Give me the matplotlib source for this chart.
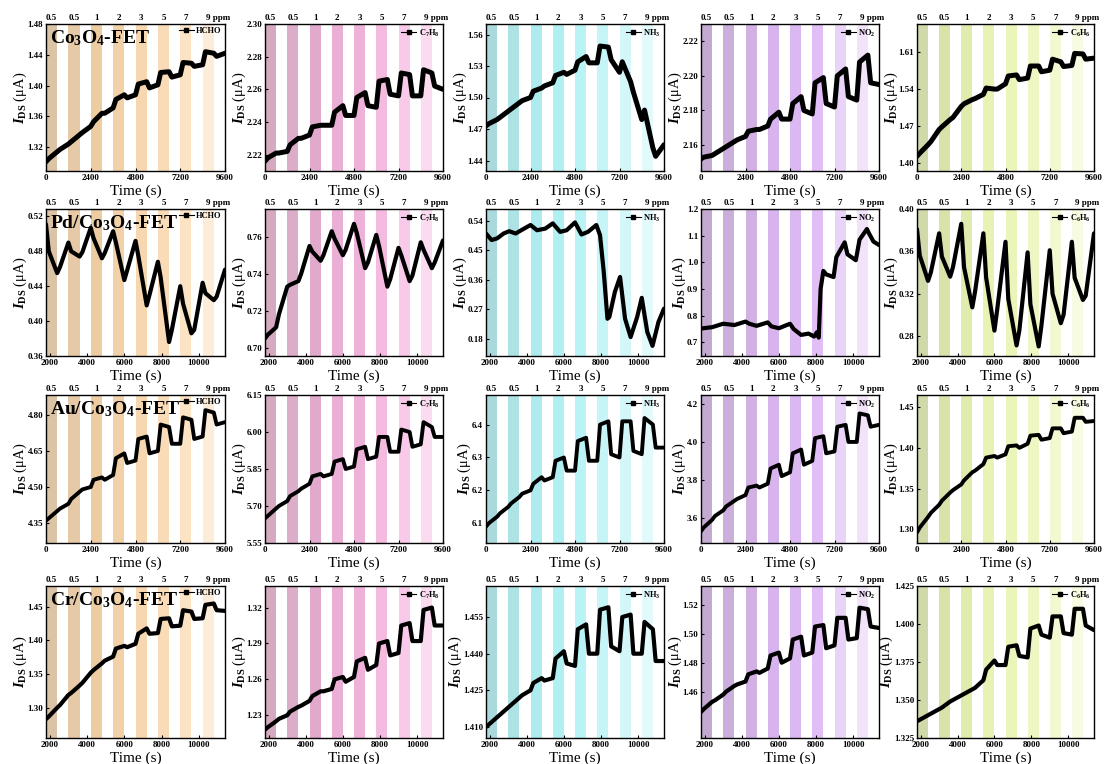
import matplotlib
matplotlib.use('Agg')
import matplotlib.pyplot as plt
import matplotlib.transforms as mtransforms
from matplotlib.ticker import FormatStrFormatter

plt.rcParams['font.family'] = ['Liberation Serif', 'DejaVu Serif']
plt.rcParams['font.weight'] = 'bold'
plt.rcParams['mathtext.fontset'] = 'custom'
plt.rcParams['mathtext.rm'] = 'Liberation Serif:bold'
plt.rcParams['mathtext.it'] = 'Liberation Serif:bold:italic'
plt.rcParams['mathtext.bf'] = 'Liberation Serif:bold'

# knot times (s): band start, +150, band end, +150 ... for each of 8 cycles
T_A = [0, 150, 600, 750, 1200, 1350, 1800, 1950, 2400, 2550, 3000, 3150,
       3600, 3750, 4200, 4350, 4800, 4950, 5400, 5550, 6000, 6150, 6600, 6750,
       7200, 7350, 7800, 7950, 8400, 8550, 9000, 9150, 9600]
T_B = [1800, 1950, 2400, 2550, 3000, 3150, 3600, 3750, 4200, 4350, 4800, 4950,
       5400, 5550, 6000, 6150, 6600, 6750, 7200, 7350, 7800, 7950, 8400, 8550,
       9000, 9150, 9600, 9750, 10200, 10350, 10800, 10950, 11400]

bands_A = [0, 1200, 2400, 3600, 4800, 6000, 7200, 8400]
bands_B = [1800, 3000, 4200, 5400, 6600, 7800, 9000, 10200]
band_width = 600
conc_labels = ['0.5', '0.5', '1', '2', '3', '5', '7', '9 ppm']

gases = ['HCHO', 'C$_7$H$_8$', 'NH$_3$', 'NO$_2$', 'C$_6$H$_6$']
sensors = ['Co$_3$O$_4$-FET', 'Pd/Co$_3$O$_4$-FET', 'Au/Co$_3$O$_4$-FET', 'Cr/Co$_3$O$_4$-FET']

# ---- Co3O4-FET ----
co_hcho = [1.301, 1.305, 1.314, 1.317, 1.324, 1.327, 1.336, 1.339, 1.347, 1.353, 1.364, 1.364,
           1.371, 1.382, 1.388, 1.384, 1.388, 1.402, 1.405, 1.397, 1.401, 1.417, 1.418, 1.411,
           1.414, 1.430, 1.429, 1.425, 1.427, 1.444, 1.442, 1.438, 1.442]
co_c7h8 = [2.216, 2.218, 2.221, 2.221, 2.222, 2.226, 2.230, 2.230, 2.232, 2.237, 2.238, 2.238,
           2.238, 2.246, 2.250, 2.244, 2.244, 2.255, 2.258, 2.250, 2.249, 2.265, 2.266, 2.257,
           2.256, 2.270, 2.269, 2.256, 2.256, 2.272, 2.270, 2.262, 2.260]
co_nh3 = [1.473, 1.475, 1.479, 1.481, 1.487, 1.489, 1.495, 1.497, 1.500, 1.506, 1.509, 1.511,
          1.514, 1.521, 1.524, 1.522, 1.526, 1.534, 1.539, 1.533, 1.533, 1.549, 1.548, 1.536,
          1.524, 1.534, 1.515, 1.505, 1.479, 1.488, 1.452, 1.444, 1.455]
co_no2 = [2.152, 2.153, 2.154, 2.155, 2.158, 2.159, 2.162, 2.163, 2.165, 2.168, 2.169, 2.169,
          2.171, 2.175, 2.179, 2.175, 2.175, 2.184, 2.188, 2.180, 2.178, 2.196, 2.199, 2.184,
          2.182, 2.200, 2.204, 2.188, 2.186, 2.208, 2.212, 2.196, 2.195]
co_c6h6 = [1.412, 1.418, 1.434, 1.440, 1.463, 1.468, 1.482, 1.486, 1.507, 1.512, 1.520, 1.522,
           1.530, 1.542, 1.540, 1.540, 1.550, 1.565, 1.567, 1.558, 1.561, 1.584, 1.584, 1.573,
           1.576, 1.597, 1.592, 1.583, 1.585, 1.608, 1.607, 1.597, 1.599]

# ---- Pd/Co3O4-FET ----
pd_hcho = [0.511, 0.480, 0.455, 0.462, 0.490, 0.480, 0.474, 0.479, 0.507, 0.495, 0.472, 0.478,
           0.503, 0.490, 0.447, 0.458, 0.492, 0.475, 0.418, 0.430, 0.468, 0.450, 0.376, 0.390,
           0.440, 0.420, 0.386, 0.390, 0.444, 0.432, 0.424, 0.428, 0.459]
pd_c7h8 = [0.705, 0.707, 0.711, 0.718, 0.733, 0.734, 0.736, 0.740, 0.755, 0.752, 0.747, 0.750,
           0.763, 0.759, 0.750, 0.753, 0.767, 0.762, 0.743, 0.746, 0.761, 0.755, 0.733, 0.737,
           0.754, 0.750, 0.736, 0.739, 0.757, 0.753, 0.743, 0.746, 0.758]
pd_nh3_t = [1800, 2100, 2400, 2750, 3050, 3400, 3700, 4200, 4550, 5000, 5400, 5800, 6150, 6600,
            6950, 7300, 7750, 7950, 8150, 8350, 8450, 8750, 9030, 9300, 9600, 9950, 10200, 10500,
            10780, 11100, 11400]
pd_nh3 = [0.502, 0.482, 0.487, 0.502, 0.509, 0.502, 0.512, 0.528, 0.512, 0.517, 0.533, 0.507,
          0.512, 0.536, 0.499, 0.507, 0.528, 0.497, 0.385, 0.241, 0.246, 0.323, 0.369, 0.241,
          0.185, 0.246, 0.305, 0.200, 0.158, 0.231, 0.272]
pd_no2_t = [1800, 2400, 3000, 3600, 4200, 4400, 4800, 5400, 5600, 6000, 6600, 6800, 7200, 7600,
            7900, 8050, 8150, 8250, 8400, 8550, 8950, 9100, 9550, 9700, 10150, 10350, 10750,
            10850, 11100, 11400]
pd_no2 = [0.752, 0.757, 0.770, 0.765, 0.778, 0.770, 0.762, 0.775, 0.760, 0.753, 0.770, 0.750,
          0.728, 0.733, 0.722, 0.738, 0.718, 0.900, 0.968, 0.955, 0.945, 1.020, 1.075, 1.030,
          1.008, 1.085, 1.125, 1.110, 1.078, 1.065]
pd_c6h6 = [0.381, 0.356, 0.332, 0.340, 0.377, 0.355, 0.336, 0.345, 0.386, 0.345, 0.307, 0.322,
           0.377, 0.335, 0.285, 0.305, 0.369, 0.315, 0.271, 0.285, 0.359, 0.310, 0.270, 0.290,
           0.361, 0.320, 0.292, 0.300, 0.369, 0.335, 0.314, 0.318, 0.377]

# ---- Au/Co3O4-FET ----
au_hcho = [4.36, 4.37, 4.40, 4.41, 4.43, 4.45, 4.48, 4.49, 4.50, 4.53, 4.54, 4.53,
           4.55, 4.62, 4.64, 4.60, 4.61, 4.70, 4.71, 4.64, 4.65, 4.76, 4.75, 4.68,
           4.68, 4.79, 4.78, 4.70, 4.71, 4.82, 4.81, 4.76, 4.77]
au_c7h8 = [5.65, 5.66, 5.69, 5.70, 5.72, 5.74, 5.76, 5.77, 5.79, 5.82, 5.83, 5.82,
           5.83, 5.88, 5.89, 5.85, 5.86, 5.93, 5.94, 5.89, 5.90, 5.98, 5.98, 5.92,
           5.92, 6.01, 6.00, 5.94, 5.95, 6.04, 6.02, 5.98, 5.98]
au_nh3 = [6.09, 6.10, 6.12, 6.13, 6.15, 6.16, 6.18, 6.19, 6.20, 6.22, 6.24, 6.23,
          6.24, 6.29, 6.30, 6.26, 6.26, 6.35, 6.36, 6.29, 6.29, 6.40, 6.41, 6.31,
          6.30, 6.41, 6.41, 6.32, 6.31, 6.42, 6.40, 6.33, 6.33]
au_no2 = [3.53, 3.55, 3.59, 3.61, 3.64, 3.66, 3.69, 3.70, 3.72, 3.76, 3.77, 3.76,
          3.78, 3.86, 3.88, 3.82, 3.84, 3.94, 3.96, 3.88, 3.90, 4.02, 4.03, 3.94,
          3.95, 4.08, 4.09, 4.00, 4.00, 4.15, 4.14, 4.08, 4.09]
au_c6h6 = [1.296, 1.302, 1.315, 1.320, 1.330, 1.335, 1.345, 1.348, 1.355, 1.360, 1.370, 1.372,
           1.380, 1.388, 1.390, 1.388, 1.392, 1.402, 1.403, 1.400, 1.405, 1.415, 1.416, 1.410,
           1.412, 1.424, 1.424, 1.418, 1.420, 1.437, 1.437, 1.432, 1.433]

# ---- Cr/Co3O4-FET ----
cr_hcho = [1.283, 1.287, 1.300, 1.304, 1.319, 1.322, 1.333, 1.337, 1.352, 1.356, 1.366, 1.370,
           1.376, 1.388, 1.392, 1.390, 1.395, 1.410, 1.418, 1.410, 1.411, 1.432, 1.433, 1.421,
           1.422, 1.445, 1.443, 1.432, 1.433, 1.453, 1.455, 1.445, 1.444]
cr_c7h8 = [1.218, 1.220, 1.225, 1.227, 1.230, 1.233, 1.237, 1.238, 1.242, 1.246, 1.250, 1.250,
           1.252, 1.260, 1.262, 1.258, 1.262, 1.275, 1.278, 1.268, 1.272, 1.290, 1.292, 1.280,
           1.282, 1.305, 1.307, 1.292, 1.292, 1.318, 1.320, 1.305, 1.305]
cr_nh3 = [1.410, 1.411, 1.414, 1.415, 1.418, 1.419, 1.422, 1.423, 1.425, 1.428, 1.430, 1.429,
          1.430, 1.438, 1.441, 1.436, 1.435, 1.450, 1.452, 1.440, 1.440, 1.458, 1.459, 1.443,
          1.441, 1.455, 1.456, 1.440, 1.440, 1.453, 1.450, 1.437, 1.437]
cr_no2 = [1.446, 1.448, 1.453, 1.454, 1.458, 1.460, 1.464, 1.465, 1.467, 1.472, 1.474, 1.473,
          1.476, 1.485, 1.487, 1.480, 1.483, 1.496, 1.498, 1.485, 1.487, 1.505, 1.506, 1.490,
          1.492, 1.511, 1.511, 1.496, 1.497, 1.518, 1.517, 1.505, 1.504]
cr_c6h6 = [1.336, 1.337, 1.340, 1.341, 1.344, 1.345, 1.349, 1.350, 1.353, 1.354, 1.357, 1.358,
           1.363, 1.370, 1.376, 1.373, 1.373, 1.385, 1.386, 1.379, 1.378, 1.397, 1.399, 1.393,
           1.391, 1.405, 1.405, 1.394, 1.393, 1.410, 1.410, 1.399, 1.396]

curves = [
    [(T_A, co_hcho), (T_A, co_c7h8), (T_A, co_nh3), (T_A, co_no2), (T_A, co_c6h6)],
    [(T_B, pd_hcho), (T_B, pd_c7h8), (pd_nh3_t, pd_nh3), (pd_no2_t, pd_no2), (T_B, pd_c6h6)],
    [(T_A, au_hcho), (T_A, au_c7h8), (T_A, au_nh3), (T_A, au_no2), (T_A, au_c6h6)],
    [(T_B, cr_hcho), (T_B, cr_c7h8), (T_B, cr_nh3), (T_B, cr_no2), (T_B, cr_c6h6)],
]

yticks = [
    [[1.32, 1.36, 1.40, 1.44, 1.48], [2.22, 2.24, 2.26, 2.28, 2.30], [1.44, 1.47, 1.50, 1.53, 1.56],
     [2.16, 2.18, 2.20, 2.22], [1.40, 1.47, 1.54, 1.61]],
    [[0.36, 0.40, 0.44, 0.48, 0.52], [0.70, 0.72, 0.74, 0.76], [0.18, 0.27, 0.36, 0.45, 0.54],
     [0.7, 0.8, 0.9, 1.0, 1.1, 1.2], [0.28, 0.32, 0.36, 0.40]],
    [[4.35, 4.50, 4.65, 4.80], [5.55, 5.70, 5.85, 6.00, 6.15], [6.1, 6.2, 6.3, 6.4],
     [3.6, 3.8, 4.0, 4.2], [1.30, 1.35, 1.40, 1.45]],
    [[1.30, 1.35, 1.40, 1.45], [1.23, 1.26, 1.29, 1.32], [1.410, 1.425, 1.440, 1.455],
     [1.46, 1.48, 1.50, 1.52], [1.325, 1.350, 1.375, 1.400, 1.425]],
]
ylims = [
    [(1.289, 1.48), (2.210, 2.30), (1.430, 1.570), (2.145, 2.230), (1.384, 1.664)],
    [(0.36, 0.5285), (0.6955, 0.775), (0.127, 0.577), (0.649, 1.2), (0.261, 0.40)],
    [(4.267, 4.883), (5.55, 6.15), (6.04, 6.49), (3.468, 4.247), (1.283, 1.465)],
    [(1.255, 1.481), (1.211, 1.338), (1.4055, 1.4677), (1.428, 1.533), (1.325, 1.425)],
]
yfmt = [
    ['%.2f', '%.2f', '%.2f', '%.2f', '%.2f'],
    ['%.2f', '%.2f', '%.2f', '%.1f', '%.2f'],
    ['%.2f', '%.2f', '%.1f', '%.1f', '%.2f'],
    ['%.2f', '%.2f', '%.3f', '%.2f', '%.3f'],
]

band_colors = [
    ['#dbc4a5', '#e6c9a6', '#edcca2', '#f2d1a8', '#f6d7b0', '#f9dcb7', '#fbe3c4', '#fdecd8'],
    ['#d5a9bf', '#dcadc8', '#e1aacd', '#e9afd5', '#eeb2d9', '#f4badf', '#f8c9e8', '#fbdbf0'],
    ['#a9d9dc', '#aee3e6', '#aeebee', '#b0f0f3', '#b9f3f5', '#c5f5f7', '#d3f7f9', '#e2fafb'],
    ['#c4aad0', '#cbaedc', '#d2b0e4', '#d8b4ee', '#dcb8f2', '#e1bff6', '#ead3f9', '#f2e3fb'],
    ['#cfd9aa', '#d9e3a9', '#e0ecad', '#e6f3b2', '#eaf5ba', '#eef7c4', '#f2f9d2', '#f6fbe1'],
]

col_px = [(46, 225), (265, 443), (486, 664), (701, 879), (917, 1094)]
row_px = [(24, 171), (209, 356), (395, 543), (586, 738)]
lw_rows = [3.6, 3.0, 2.8, 3.0]

W, H = 1105, 764
fig = plt.figure(figsize=(W / 100, H / 100), dpi=100)

for r in range(4):
    for c in range(5):
        x0, x1 = col_px[c]
        y0, y1 = row_px[r]
        ax = fig.add_axes([x0 / W, 1 - y1 / H, (x1 - x0) / W, (y1 - y0) / H])
        bands = bands_A if r % 2 == 0 else bands_B
        for k, b in enumerate(bands):
            ax.axvspan(b, b + band_width, color=band_colors[c][k], lw=0, zorder=0)
        t, v = curves[r][c]
        ax.plot(t, v, color='black', lw=lw_rows[r], solid_joinstyle='round',
                solid_capstyle='round', zorder=3)
        ax.plot([], [], '-s', color='black', lw=0.8, ms=2.5, label=gases[c])
        ax.legend(loc='upper right', frameon=False, fontsize=6, handlelength=1.8,
                  borderpad=0.3, handletextpad=0.3, borderaxespad=0.1)

        if r % 2 == 0:
            ax.set_xlim(0, 9600)
            ax.set_xticks([0, 2400, 4800, 7200, 9600])
        else:
            ax.set_xlim(1800, 11400)
            ax.set_xticks([2000, 4000, 6000, 8000, 10000])
        ax.set_ylim(*ylims[r][c])
        ax.set_yticks(yticks[r][c])
        ax.yaxis.set_major_formatter(FormatStrFormatter(yfmt[r][c]))
        ax.tick_params(direction='in', length=2, width=0.8, labelsize=6.5, pad=2)
        for sp in ax.spines.values():
            sp.set_linewidth(1.0)
        ax.set_xlabel('Time (s)', fontsize=11, labelpad=2)
        ax.set_ylabel(r'$I_{\rm DS}$ (μA)', fontsize=10.5, labelpad=-1)

        trans = mtransforms.blended_transform_factory(ax.transData, ax.transAxes)
        for k, b in enumerate(bands):
            if k == len(bands) - 1:
                ax.text(b + band_width / 2 - 120, 1.015, conc_labels[k], transform=trans,
                        ha='left', va='bottom', fontsize=6.5)
            else:
                ax.text(b + band_width / 2, 1.015, conc_labels[k], transform=trans,
                        ha='center', va='bottom', fontsize=6.5)

        if c == 0:
            ax.text(0.02, 0.97, sensors[r], transform=ax.transAxes, ha='left', va='top',
                    fontsize=14, zorder=5)

fig.savefig('out.png', dpi=100)
